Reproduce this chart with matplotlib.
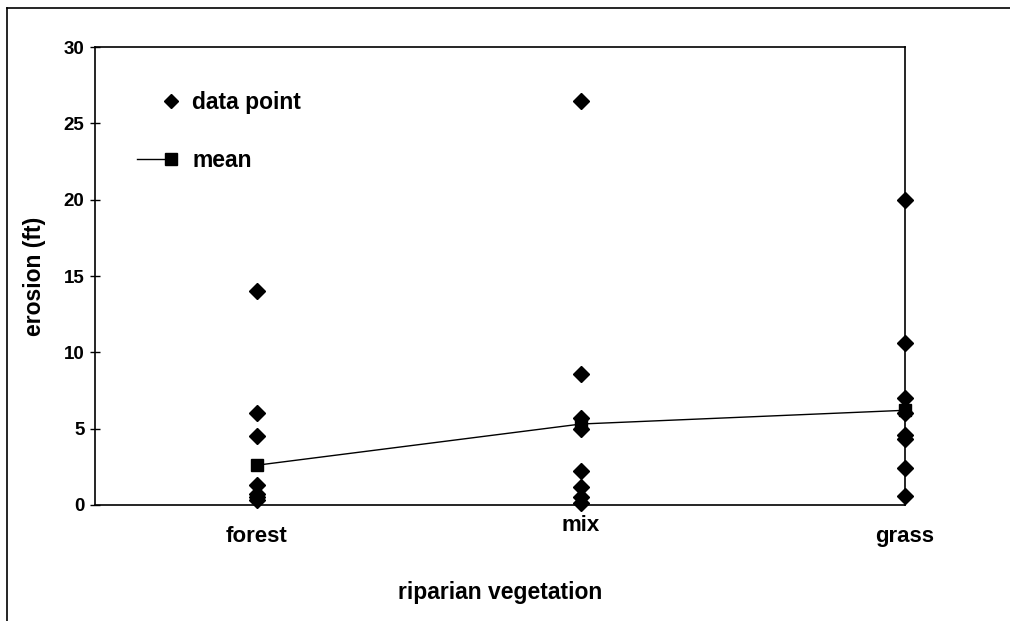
import matplotlib.pyplot as plt
from matplotlib.lines import Line2D
from matplotlib.legend_handler import HandlerBase

categories = ["forest", "mix", "grass"]
forest_points = [14.0, 6.0, 4.5, 1.3, 0.7, 0.5, 0.3]
mix_points = [26.5, 8.6, 5.7, 5.0, 2.2, 1.2, 0.5, 0.1]
grass_points = [20.0, 10.6, 7.0, 6.0, 4.6, 4.3, 2.4, 0.6]
means = [2.6, 5.3, 6.2]
y_ticks = [0, 5, 10, 15, 20, 25, 30]


class EndMarker(HandlerBase):
    # legend handle with the marker at the right end of the line
    def create_artists(self, legend, orig_handle, xdescent, ydescent,
                       width, height, fontsize, trans):
        y = (height - ydescent) / 2
        x0, x1 = -xdescent, -xdescent + width
        artists = []
        if orig_handle.get_linestyle() not in ("None", "none", ""):
            line = Line2D([x0, x1], [y, y], color=orig_handle.get_color(),
                          linewidth=orig_handle.get_linewidth())
            line.set_transform(trans)
            artists.append(line)
        mk = Line2D([x1], [y], linestyle="none", marker=orig_handle.get_marker(),
                    markersize=orig_handle.get_markersize(),
                    color=orig_handle.get_color())
        mk.set_transform(trans)
        artists.append(mk)
        return artists


plt.rcParams["font.family"] = ["Liberation Sans", "DejaVu Sans"]
plt.rcParams["font.weight"] = "bold"

fig = plt.figure(figsize=(10.10, 6.21), dpi=100)
ax = fig.add_axes([0.094, 0.187, 0.802, 0.737])

# data points
for i, pts in enumerate([forest_points, mix_points, grass_points]):
    ax.plot([i] * len(pts), pts, linestyle="none", marker="D", markersize=8.5,
            color="black", clip_on=False, zorder=3)

# means
ax.plot(range(len(categories)), means, color="black", linewidth=1,
        marker="s", markersize=9, clip_on=False, zorder=4)

ax.set_xlim(-0.5, 2.0)
ax.set_ylim(0, 30)
ax.set_yticks(y_ticks)
ax.set_yticklabels([str(t) for t in y_ticks], fontsize=13.5, fontweight="bold")
ax.tick_params(axis="y", direction="inout", length=7, width=1, pad=4)
ax.set_xticks([])
for s in ax.spines.values():
    s.set_linewidth(1.2)

# category labels (mix sits a bit higher in the original)
label_y = [-0.07, -0.045, -0.07]
for i, (cat, ly) in enumerate(zip(categories, label_y)):
    ax.text(i, ly, cat, transform=ax.get_xaxis_transform(), ha="center",
            va="center", fontsize=16, fontweight="bold")

ax.set_xlabel("riparian vegetation", fontsize=16.5, fontweight="bold", labelpad=55)
ax.set_ylabel("erosion (ft)", fontsize=16.5, fontweight="bold", labelpad=13)

handles = [
    Line2D([], [], linestyle="none", marker="D", markersize=7, color="black"),
    Line2D([], [], color="black", linewidth=1, marker="s", markersize=9),
]
ax.legend(handles, ["data point", "mean"], loc="upper left",
          handler_map={Line2D: EndMarker()},
          bbox_to_anchor=(0.052, 0.905), borderaxespad=0, borderpad=0,
          frameon=False, fontsize=16.5, handlelength=1.5, labelspacing=1.55,
          handletextpad=0.9)

# border of the original figure box
fig.add_artist(Line2D([0.007, 1.0], [0.987, 0.987], color="black", linewidth=1.2))
fig.add_artist(Line2D([0.007, 0.007], [0.0, 0.987], color="black", linewidth=1.2))

fig.savefig("out.png", dpi=100, facecolor="white")
